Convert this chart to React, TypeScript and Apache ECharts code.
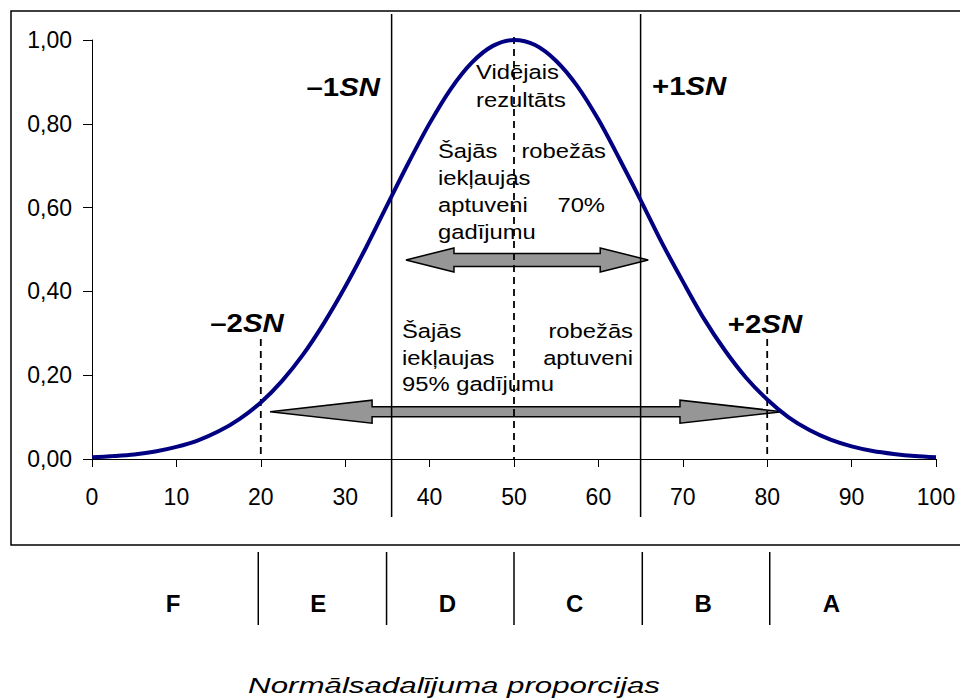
import React, { useEffect, useRef } from "react";
import * as echarts from "echarts";

// ---- data ----
const curveX = [
  0, 2.5, 5, 7.5, 10, 12.5, 15, 17.5, 20, 22.5, 25, 27.5, 30, 32.5, 35, 37.5, 40, 42.5, 45, 47.5, 50,
  52.5, 55, 57.5, 60, 62.5, 65, 67.5, 70, 72.5, 75, 77.5, 80, 82.5, 85, 87.5, 90, 92.5, 95, 97.5, 100,
];
const curveY = [
  0.004, 0.007, 0.011, 0.018, 0.029, 0.044, 0.066, 0.096, 0.135, 0.186, 0.249, 0.325, 0.411, 0.506,
  0.607, 0.707, 0.801, 0.883, 0.946, 0.986, 1.0, 0.988, 0.95, 0.89, 0.81, 0.716, 0.618, 0.517, 0.424,
  0.335, 0.259, 0.194, 0.142, 0.1, 0.069, 0.046, 0.03, 0.019, 0.012, 0.007, 0.004,
];
const sdOneLines = [35.5, 65];
const meanLines = [50];
const sdTwoLines = [20, 80];
// [from x, to x, at y]
const arrows = [
  [37.2, 65.9, 0.475],
  [21.1, 81.75, 0.113],
];
const gradeBounds = [19.7, 34.9, 50, 65.2, 80.3];
const gradeLabels = ["F", "E", "D", "C", "B", "A"];
const gradeCenters = [9.6, 26.8, 42.1, 57.2, 72.4, 87.6];

// ---- styling constants ----
const FONT = "'Liberation Sans', Arial, sans-serif";
const arrowHeadLen = [48, 102];
const arrowHeadHalf = [12, 11.5];
const arrowShaftHalf = [6.5, 5];

function txt(
  text: string,
  x: number,
  y: number,
  align: string,
  size: number,
  scaleX: number,
  extra: any = {}
) {
  return {
    type: "text",
    x,
    y,
    scaleX,
    z: 10,
    style: {
      text,
      x: 0,
      y: 0,
      fill: "#000",
      fontFamily: FONT,
      fontSize: size,
      textAlign: align,
      textVerticalAlign: "middle",
      ...extra,
    },
  };
}

function snLabel(prefix: string, x: number, y: number, align: string) {
  return {
    type: "text",
    x,
    y,
    scaleX: 1.13,
    z: 10,
    style: {
      text: `{a|${prefix}}{b|SN}`,
      x: 0,
      y: 0,
      fill: "#000",
      textAlign: align,
      textVerticalAlign: "middle",
      fontFamily: FONT,
      fontSize: 26,
      fontWeight: "bold",
      rich: {
        a: { fontFamily: FONT, fontSize: 26, fontWeight: "bold", fill: "#000", textFill: "#000" },
        b: {
          fontFamily: FONT,
          fontSize: 26,
          fontWeight: "bold",
          fontStyle: "italic",
          fill: "#000",
          textFill: "#000",
        },
      },
    },
  };
}

export default function App() {
  const ref = useRef<HTMLDivElement>(null);

  useEffect(() => {
    if (!ref.current) return;
    const chart = echarts.init(ref.current, undefined, { renderer: "svg" });

    const ann = 20.5;
    const sx = 1.16;

    const option: any = {
      animation: false,
      backgroundColor: "#fff",
      grid: { left: 92, right: 24, top: 40, bottom: 240, containLabel: false },
      xAxis: {
        type: "value",
        min: 0,
        max: 100,
        interval: 10,
        axisLine: { show: true, onZero: false, lineStyle: { color: "#000", width: 1 } },
        axisTick: { show: true, length: 8, lineStyle: { color: "#000", width: 1 } },
        axisLabel: { color: "#000", fontFamily: FONT, fontSize: 23, margin: 26 },
        splitLine: { show: false },
      },
      yAxis: {
        type: "value",
        min: 0,
        max: 1,
        interval: 0.2,
        axisLine: { show: true, lineStyle: { color: "#000", width: 1 } },
        axisTick: { show: true, length: 9, lineStyle: { color: "#000", width: 1 } },
        axisLabel: {
          color: "#000",
          fontFamily: FONT,
          fontSize: 23,
          margin: 20,
          formatter: (v: number) => v.toFixed(2).replace(".", ","),
        },
        splitLine: { show: false },
      },
      series: [
        {
          type: "custom",
          name: "arrows",
          clip: false,
          z: 1,
          data: arrows,
          renderItem: (params: any, api: any) => {
            const i = params.dataIndex;
            const a = api.coord([api.value(0), api.value(2)]);
            const b = api.coord([api.value(1), api.value(2)]);
            const hl = arrowHeadLen[i];
            const hh = arrowHeadHalf[i];
            const sh = arrowShaftHalf[i];
            const xl = a[0];
            const xr = b[0];
            const y = a[1];
            return {
              type: "polygon",
              shape: {
                points: [
                  [xl, y],
                  [xl + hl, y - hh],
                  [xl + hl, y - sh],
                  [xr - hl, y - sh],
                  [xr - hl, y - hh],
                  [xr, y],
                  [xr - hl, y + hh],
                  [xr - hl, y + sh],
                  [xl + hl, y + sh],
                  [xl + hl, y + hh],
                ],
              },
              style: { fill: "#969696", stroke: "#000", lineWidth: 1.5 },
            };
          },
        },
        {
          type: "custom",
          name: "sd1",
          clip: false,
          z: 3,
          data: sdOneLines.map((x) => [x, 0]),
          renderItem: (params: any, api: any) => {
            const x = api.value(0);
            const t = api.coord([x, 1]);
            const b = api.coord([x, 0]);
            return {
              type: "line",
              shape: { x1: t[0], y1: t[1] - 26, x2: b[0], y2: b[1] + 58 },
              style: { stroke: "#000", lineWidth: 1.5 },
            };
          },
        },
        {
          type: "custom",
          name: "mean",
          clip: false,
          z: 3,
          data: meanLines.map((x) => [x, 0]),
          renderItem: (params: any, api: any) => {
            const x = api.value(0);
            const t = api.coord([x, 1]);
            const b = api.coord([x, 0]);
            return {
              type: "line",
              shape: { x1: t[0], y1: t[1] - 3, x2: b[0], y2: b[1] },
              style: { stroke: "#000", lineWidth: 1.8, lineDash: [7, 5] },
            };
          },
        },
        {
          type: "custom",
          name: "sd2",
          clip: false,
          z: 3,
          data: sdTwoLines.map((x) => [x, 0]),
          renderItem: (params: any, api: any) => {
            const x = api.value(0);
            const b = api.coord([x, 0]);
            return {
              type: "line",
              shape: { x1: b[0], y1: b[1] - 120, x2: b[0], y2: b[1] },
              style: { stroke: "#000", lineWidth: 1.8, lineDash: [7, 5] },
            };
          },
        },
        {
          type: "custom",
          name: "gradeBounds",
          clip: false,
          z: 3,
          data: gradeBounds.map((x) => [x, 0]),
          renderItem: (params: any, api: any) => {
            const x = api.value(0);
            const b = api.coord([x, 0]);
            return {
              type: "line",
              shape: { x1: b[0], y1: b[1] + 93, x2: b[0], y2: b[1] + 166 },
              style: { stroke: "#000", lineWidth: 1.5 },
            };
          },
        },
        {
          type: "custom",
          name: "grades",
          clip: false,
          z: 3,
          data: gradeCenters.map((x) => [x, 0]),
          renderItem: (params: any, api: any) => {
            const x = api.value(0);
            const b = api.coord([x, 0]);
            return {
              type: "text",
              x: b[0],
              y: b[1] + 144,
              style: {
                text: gradeLabels[params.dataIndex],
                fill: "#000",
                fontFamily: FONT,
                fontSize: 24,
                fontWeight: "bold",
                align: "center",
                verticalAlign: "middle",
              },
            };
          },
        },
        {
          type: "line",
          name: "curve",
          z: 4,
          smooth: 0.3,
          showSymbol: false,
          symbol: "none",
          data: curveX.map((x, i) => [x, curveY[i]]),
          lineStyle: { color: "#000080", width: 4 },
        },
      ],
      graphic: [
        {
          type: "rect",
          z: 0,
          shape: { x: 11, y: 11, width: 960, height: 534 },
          style: { fill: "none", stroke: "#000", lineWidth: 1.5 },
        },
        snLabel("–1", 380, 87, "right"),
        snLabel("+1", 652, 86, "left"),
        snLabel("–2", 247, 323, "center"),
        snLabel("+2", 765, 324, "center"),
        txt("Vidējais", 476, 72, "left", ann, sx),
        txt("rezultāts", 476, 100, "left", ann, sx),
        txt("Šajās", 438, 151, "left", ann, sx),
        txt("robežās", 606, 151, "right", ann, sx),
        txt("iekļaujas", 438, 178, "left", ann, sx),
        txt("aptuveni", 438, 205, "left", ann, sx),
        txt("70%", 605, 205, "right", ann, sx),
        txt("gadījumu", 438, 232, "left", ann, sx),
        txt("Šajās", 402, 331, "left", ann, sx),
        txt("robežās", 633, 331, "right", ann, sx),
        txt("iekļaujas", 402, 358, "left", ann, sx),
        txt("aptuveni", 633, 358, "right", ann, sx),
        txt("95% gadījumu", 402, 384, "left", ann, sx),
        txt("Normālsadalījuma proporcijas", 454, 685, "center", 22.5, 1.39, { fontStyle: "italic" }),
      ],
    };

    chart.setOption(option);
    return () => chart.dispose();
  }, []);

  return (
    <div
      ref={ref}
      style={{ position: "fixed", left: 0, top: 0, width: 960, height: 699, background: "#fff" }}
    />
  );
}
